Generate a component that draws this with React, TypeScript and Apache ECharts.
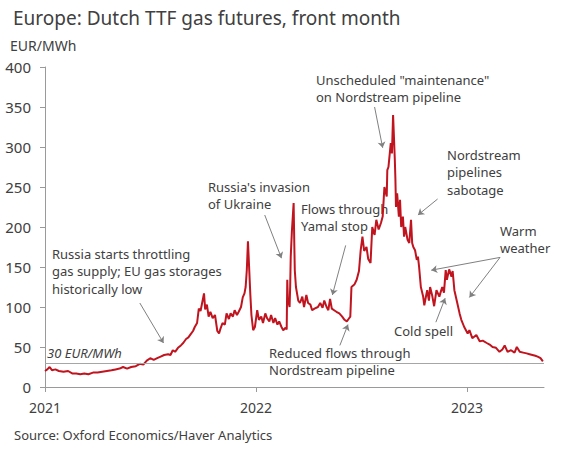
import React, { useEffect, useRef } from "react";
import * as echarts from "echarts";

const dates: string[] = [
  "2021-01-01","2021-01-05","2021-01-09","2021-01-13","2021-01-19","2021-01-25","2021-02-02","2021-02-10","2021-02-17","2021-02-24",
  "2021-03-03","2021-03-10","2021-03-17","2021-03-25","2021-04-02","2021-04-10","2021-04-18","2021-04-26","2021-05-03","2021-05-10",
  "2021-05-16","2021-05-23","2021-05-30","2021-06-07","2021-06-14","2021-06-20","2021-06-26","2021-07-02","2021-07-08","2021-07-14",
  "2021-07-20","2021-07-26","2021-08-02","2021-08-06","2021-08-10","2021-08-14","2021-08-19","2021-08-24","2021-08-28","2021-09-02",
  "2021-09-06","2021-09-10","2021-09-14","2021-09-17","2021-09-21","2021-09-24","2021-09-27","2021-09-30","2021-10-03","2021-10-05",
  "2021-10-08","2021-10-11","2021-10-14","2021-10-18","2021-10-22","2021-10-26","2021-10-29","2021-11-01","2021-11-04","2021-11-08",
  "2021-11-11","2021-11-15","2021-11-18","2021-11-22","2021-11-25","2021-11-29","2021-12-02","2021-12-06","2021-12-09","2021-12-12",
  "2021-12-14","2021-12-16","2021-12-18","2021-12-20","2021-12-22","2021-12-24","2021-12-27","2021-12-30",
  "2022-01-03","2022-01-06","2022-01-10","2022-01-13","2022-01-17","2022-01-20","2022-01-24","2022-01-27","2022-01-31","2022-02-03",
  "2022-02-07","2022-02-10","2022-02-14","2022-02-17","2022-02-21","2022-02-23","2022-02-24","2022-02-25","2022-02-28","2022-03-01",
  "2022-03-02","2022-03-04","2022-03-07","2022-03-08","2022-03-09","2022-03-11","2022-03-15","2022-03-18","2022-03-22","2022-03-25",
  "2022-03-29","2022-04-01","2022-04-05","2022-04-08","2022-04-12","2022-04-18","2022-04-22","2022-04-26","2022-04-29","2022-05-03",
  "2022-05-06","2022-05-09","2022-05-12","2022-05-16","2022-05-20","2022-05-25","2022-05-30","2022-06-03","2022-06-07","2022-06-10",
  "2022-06-13","2022-06-15","2022-06-20","2022-06-24","2022-06-28","2022-07-01","2022-07-04","2022-07-07","2022-07-11","2022-07-14",
  "2022-07-18","2022-07-21","2022-07-25","2022-07-28","2022-08-01","2022-08-05","2022-08-08","2022-08-11","2022-08-15","2022-08-16",
  "2022-08-18","2022-08-22","2022-08-24","2022-08-26","2022-08-29","2022-08-30","2022-08-31","2022-09-02","2022-09-05","2022-09-07",
  "2022-09-09","2022-09-12","2022-09-14","2022-09-16","2022-09-20","2022-09-23","2022-09-26","2022-09-28","2022-09-30","2022-10-03",
  "2022-10-06","2022-10-08","2022-10-10","2022-10-13","2022-10-17","2022-10-19","2022-10-21","2022-10-24","2022-10-27","2022-10-29",
  "2022-11-02","2022-11-05","2022-11-09","2022-11-14","2022-11-16","2022-11-19","2022-11-22","2022-11-25","2022-11-27","2022-12-01",
  "2022-12-05","2022-12-07","2022-12-10","2022-12-15","2022-12-19","2022-12-22","2022-12-27",
  "2023-01-02","2023-01-05","2023-01-10","2023-01-17","2023-01-23","2023-01-28","2023-02-04","2023-02-09","2023-02-14","2023-02-20",
  "2023-02-26","2023-03-03","2023-03-07","2023-03-12","2023-03-18","2023-03-24","2023-03-28","2023-04-02","2023-04-08","2023-04-14",
  "2023-04-19","2023-04-24","2023-04-29","2023-05-03","2023-05-08","2023-05-12",
];

const values: number[] = [
  20,22,25,21,22,20,19,20,17,17,
  16,17,16,18,18,19,20,21,22,23,
  25,23,25,26,29,28,33,36,34,36,
  38,40,41,40,46,44,49,52,55,60,
  62,66,70,75,80,98,95,106,117,97,
  103,88,94,86,90,70,67,74,80,78,
  92,85,92,88,96,90,94,100,112,117,
  125,146,182,150,117,90,71,75,
  96,84,88,80,92,86,82,90,80,86,
  78,82,75,71,74,72,134,110,100,125,
  163,195,230,185,146,125,108,105,113,100,
  115,105,103,96,98,100,105,99,108,100,
  96,110,98,96,94,92,88,84,82,85,
  88,125,128,134,145,171,188,170,175,160,
  155,200,190,209,197,205,213,250,238,271,
  275,305,292,340,284,260,225,242,213,234,
  200,213,188,200,184,180,209,180,175,171,
  159,163,150,125,113,102,110,121,108,125,
  113,101,121,113,118,125,118,146,134,147,
  138,145,121,105,92,84,75,
  67,71,61,65,57,58,55,53,50,49,
  44,47,52,44,46,43,50,44,43,42,
  41,40,39,38,36,32,
];

const yearTicks: string[] = ["2021-01-01", "2022-01-01", "2023-01-01"];
const referenceLevel = 30;

// Annotation arrows: [start date, start value, end date, end value]
const arrowStartDates: string[] = ["2022-07-25", "2022-11-11", "2022-01-16", "2022-06-05", "2022-05-26", "2021-06-14", "2023-02-27", "2023-02-27", "2022-11-08"];
const arrowStartValues: number[] = [350, 235, 215, 177, 52, 105, 162, 162, 81];
const arrowEndDates: string[] = ["2022-08-08", "2022-10-08", "2022-02-14", "2022-05-13", "2022-06-09", "2021-07-25", "2022-10-31", "2023-01-05", "2022-11-24"];
const arrowEndValues: number[] = [299, 215, 161, 115, 78, 55, 146, 112, 111];

const notes: { text: string; x: number; y: number }[] = [
  { text: 'Unscheduled "maintenance"\non Nordstream pipeline', x: 316, y: 71 },
  { text: "Nordstream\npipelines\nsabotage", x: 447, y: 146 },
  { text: "Russia's invasion\nof Ukraine", x: 208, y: 178 },
  { text: "Flows through\nYamal stop", x: 301, y: 200 },
  { text: "Russia starts throttling\ngas supply; EU gas storages\nhistorically low", x: 52, y: 245 },
  { text: "Warm\nweather", x: 500, y: 222 },
  { text: "Cold spell", x: 394, y: 322 },
  { text: "Reduced flows through\nNordstream pipeline", x: 269, y: 344 },
];

const FONT = '"Noto Sans", sans-serif';
const TEXT = "#404040";

export default function App() {
  const ref = useRef<HTMLDivElement>(null);
  useEffect(() => {
    if (!ref.current) return;
    const chart = echarts.init(ref.current, null, { renderer: "svg" });
    const t = (d: string) => Date.parse(d);
    const seriesData = dates.map((d, i) => [t(d), values[i]]);
    const ticks = yearTicks.map(t);
    const arrows = arrowStartDates.map((d, i) => [
      { coord: [t(d), arrowStartValues[i]] },
      { coord: [t(arrowEndDates[i]), arrowEndValues[i]] },
    ]);

    chart.setOption({
      animation: false,
      textStyle: { fontFamily: FONT },
      grid: { left: 45, right: 26, top: 67, bottom: 63, containLabel: false },
      xAxis: {
        type: "value",
        min: t("2021-01-01"),
        max: t("2023-05-14"),
        axisLine: { show: true, lineStyle: { color: "#9a9a9a", width: 1 } },
        axisTick: { show: true, length: 5, customValues: ticks, lineStyle: { color: "#9a9a9a" } },
        axisLabel: {
          customValues: ticks,
          formatter: (v: number) => String(new Date(v).getUTCFullYear()),
          fontSize: 14,
          color: TEXT,
          margin: 13,
          fontFamily: FONT,
        },
        splitLine: { show: false },
      },
      yAxis: {
        type: "value",
        min: 0,
        max: 400,
        interval: 50,
        axisLine: { show: true, lineStyle: { color: "#9a9a9a", width: 1 } },
        axisTick: { show: true, length: 5, lineStyle: { color: "#9a9a9a" } },
        axisLabel: { fontSize: 15, color: TEXT, margin: 14, fontFamily: FONT },
        splitLine: { show: false },
      },
      series: [
        {
          type: "line",
          data: seriesData,
          showSymbol: false,
          lineStyle: { color: "#c0141f", width: 2 },
          z: 3,
          markLine: {
            silent: true,
            symbol: ["none", "none"],
            lineStyle: { color: "#a6a6a6", width: 1, type: "solid" },
            label: {
              show: true,
              position: "insideStartTop",
              formatter: "30 EUR/MWh",
              fontStyle: "italic",
              fontSize: 13,
              color: TEXT,
              fontFamily: FONT,
              distance: [2, 4],
            },
            data: [{ yAxis: referenceLevel }],
          },
        },
        {
          type: "line",
          data: [],
          markLine: {
            silent: true,
            symbol: ["none", "arrow"],
            symbolSize: 6,
            lineStyle: { color: "#808080", width: 1, type: "solid" },
            label: { show: false },
            data: arrows,
          },
        },
      ],
      graphic: [
        {
          type: "text",
          x: 13,
          y: 8,
          style: { text: "Europe: Dutch TTF gas futures, front month", font: `19px ${FONT}`, fill: TEXT },
        },
        {
          type: "text",
          x: 10,
          y: 38,
          style: { text: "EUR/MWh", font: `14px ${FONT}`, fill: TEXT },
        },
        {
          type: "text",
          x: 14,
          y: 428,
          style: { text: "Source: Oxford Economics/Haver Analytics", font: `13px ${FONT}`, fill: TEXT },
        },
        ...notes.map((n) => ({
          type: "text",
          x: n.x,
          y: n.y,
          style: { text: n.text, font: `13px ${FONT}`, fill: TEXT, lineHeight: 17.5 },
        })),
      ],
    });
    return () => chart.dispose();
  }, []);
  return <div ref={ref} style={{ position: "fixed", left: 0, top: 0, width: 570, height: 450, background: "#fff" }} />;
}
